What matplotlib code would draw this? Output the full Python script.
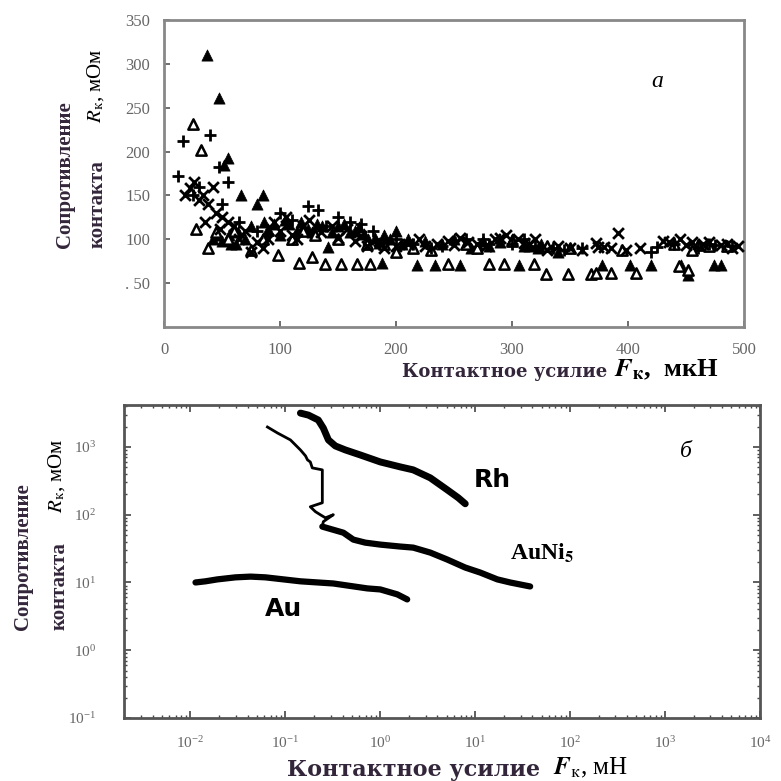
import matplotlib
matplotlib.use("Agg")
import matplotlib.pyplot as plt
from matplotlib.ticker import FixedLocator, LogLocator, NullFormatter

plt.rcParams["font.family"] = ["Liberation Serif", "DejaVu Serif"]
plt.rcParams["mathtext.fontset"] = "stix"

# ---- panel a: scatter, R (mOhm) vs F (uN) ----
tri_f_x = [37, 47, 55, 52, 66, 85, 45, 58, 70, 86, 95, 104, 115, 124, 141, 150, 160, 168, 176,
           188, 195, 205, 218, 234, 255, 265, 280, 306, 310, 322, 340, 378, 402, 420, 446, 452,
           474, 480, 62, 80, 110, 132, 185,
           42, 50, 56, 64, 75, 90, 100, 108, 118, 128, 136, 145, 155, 165, 172, 182, 190, 200,
           210, 225, 240, 250, 275, 290, 300, 315, 325]
tri_f_y = [310, 261, 193, 185, 150, 150, 105, 95, 100, 120, 118, 122, 110, 112, 91, 115, 108, 114,
           100, 73, 100, 95, 71, 71, 71, 90, 92, 71, 92, 90, 85, 71, 71, 71, 71, 59,
           71, 71, 95, 140, 100, 118, 96,
           100, 98, 105, 108, 115, 112, 105, 118, 120, 108, 115, 108, 118, 110, 106, 102, 105, 110,
           100, 98, 95, 100, 98, 97, 100, 92, 95]
tri_o_x = [25, 32, 38, 28, 60, 75, 98, 116, 128, 139, 153, 166, 178, 245, 280, 293, 319, 329, 348,
           368, 372, 385, 407, 444, 452, 110, 130, 200, 230, 260, 300, 350, 440, 460,
           45, 55, 85, 120, 150, 175, 190, 215, 270, 330, 395, 455, 470, 485]
tri_o_y = [232, 202, 90, 112, 110, 88, 82, 73, 80, 72, 72, 72, 72, 72, 72, 72, 72, 60, 60,
           60, 62, 62, 62, 70, 65, 100, 105, 85, 88, 95, 98, 90, 95, 93,
           108, 100, 100, 110, 100, 95, 95, 90, 90, 92, 88, 88, 92, 92]
plus_x = [12, 16, 40, 47, 55, 30, 65, 80, 90, 100, 124, 133, 140, 160, 180, 200, 215, 240, 260,
          280, 300, 320, 345, 360, 420, 425, 440, 470, 490,
          25, 50, 110, 150, 170, 190, 230, 275, 310, 335, 460, 475]
plus_y = [172, 212, 219, 182, 165, 160, 120, 110, 105, 130, 138, 133, 115, 120, 110, 100, 95, 92,
          100, 95, 95, 92, 88, 90, 86, 91, 95, 95, 92,
          150, 140, 122, 125, 118, 100, 90, 100, 100, 90, 90, 94]
cross_x = [18, 22, 26, 30, 34, 38, 42, 45, 50, 55, 60, 70, 75, 85, 90, 100, 110, 120, 135, 150,
           165, 175, 190, 210, 225, 245, 255, 270, 285, 295, 305, 315, 330, 350, 372, 374, 379,
           391, 398, 430, 445, 455, 465, 480, 495,
           35, 48, 65, 80, 95, 105, 115, 125, 145, 158, 170, 185, 200, 220, 235, 250, 262, 278,
           290, 310, 320, 340, 360, 385, 410, 435, 450, 470, 485, 490]
cross_y = [150, 158, 165, 145, 150, 140, 160, 130, 125, 120, 115, 110, 85, 90, 100, 110, 105, 115,
           108, 102, 98, 92, 90, 95, 92, 98, 102, 95, 100, 105, 100, 95, 88, 90, 96, 91, 91,
           107, 88, 98, 100, 97, 95, 93, 92,
           120, 112, 100, 97, 120, 125, 100, 122, 115, 112, 104, 98, 92, 100, 95, 93, 97, 92,
           102, 96, 100, 92, 88, 90, 90, 97, 94, 97, 95, 90]
a_yticks = [50, 100, 150, 200, 250, 300, 350]
a_ylabels = [". 50", "100", "150", "200", "250", "300", "350"]
a_xticks = [0, 100, 200, 300, 400, 500]

# ---- panel b: log-log curves, R (mOhm) vs F (mN) ----
rh_f = [0.144, 0.175, 0.222, 0.251, 0.284, 0.336, 0.428, 0.615, 1.0, 1.62, 2.22, 3.36, 5.07, 6.62, 7.85]
rh_r = [3160, 2950, 2500, 1900, 1270, 1035, 904, 762, 601, 508, 459, 350, 233, 178, 145]
auni_thin_f = [0.0647, 0.0824, 0.113, 0.144, 0.163, 0.171, 0.183, 0.192, 0.245, 0.245, 0.183,
               0.207, 0.233, 0.264, 0.320, 0.251, 0.245]
auni_thin_r = [1970, 1610, 1270, 904, 738, 644, 601, 491, 459, 150, 131, 111, 100, 90, 100, 79, 67]
auni_f = [0.245, 0.408, 0.520, 0.695, 1.0, 1.62, 2.22, 3.36, 5.07, 7.85, 11.3, 17.1, 23.3, 37.9]
auni_r = [66.7, 54.3, 42.9, 38.7, 36.2, 33.9, 32.7, 27.6, 21.8, 16.6, 14.0, 11.1, 10.0, 8.73]
au_f = [0.0113, 0.0144, 0.0192, 0.0298, 0.0429, 0.0617, 0.144, 0.320, 0.730, 1.0, 1.51, 1.92]
au_r = [10.0, 10.4, 11.1, 11.9, 12.2, 11.9, 10.4, 9.66, 8.17, 7.89, 6.67, 5.62]

label_col = "#33263a"
tick_col = "#666666"

fig = plt.figure(figsize=(7.81, 7.81), dpi=100)

# ==== panel a ====
ax1 = fig.add_axes([0.21, 0.5813, 0.7426, 0.393])
ax1.scatter(tri_f_x, tri_f_y, marker="^", s=65, c="black", linewidths=0.5, zorder=3)
ax1.scatter(tri_o_x, tri_o_y, marker="^", s=55, facecolors="white", edgecolors="black",
            linewidths=1.8, zorder=3)
ax1.scatter(plus_x, plus_y, marker="+", s=75, c="black", linewidths=2, zorder=3)
ax1.scatter(cross_x, cross_y, marker="x", s=60, c="black", linewidths=2, zorder=3)
ax1.set_xlim(0, 500)
ax1.set_ylim(0, 350)
ax1.set_yticks(a_yticks)
ax1.set_yticklabels(a_ylabels)
ax1.set_xticks(a_xticks)
ax1.tick_params(axis="both", direction="in", length=4, width=1.2, color="#555555",
                labelcolor=tick_col, labelsize=12)
ax1.tick_params(axis="y", pad=10)
ax1.tick_params(axis="x", pad=11)
for sp in ax1.spines.values():
    sp.set_color("#888888")
    sp.set_linewidth(2)
ax1.text(0.85, 0.80, "a", transform=ax1.transAxes, fontsize=17, style="italic",
         ha="center", va="center")

# y label of panel a (two columns)
fig.text(65 / 781, 1 - 248 / 781, "Сопротивление", rotation=90, ha="center", va="bottom",
         fontsize=15, fontweight="bold", color=label_col)
fig.text(98 / 781, 1 - 248 / 781, "контакта", rotation=90, ha="center", va="bottom",
         fontsize=15, fontweight="bold", color=label_col)
fig.text(96 / 781, 1 - 123 / 781, "$R_{\\mathrm{к}}$, мОм", rotation=90, ha="center", va="bottom",
         fontsize=15, color="black")

# x label of panel a
fig.text(607 / 781, 1 - 372 / 781, "Контактное усилие", ha="right", va="center",
         fontsize=13, fontweight="bold", color=label_col, family="DejaVu Serif")
fig.text(614 / 781, 1 - 370 / 781, "$\\boldsymbol{F}_{\\mathbf{к}}$,  мкН", ha="left", va="center",
         fontsize=19, fontweight="bold", color="black")

# ==== panel b ====
ax2 = fig.add_axes([0.1588, 0.0807, 0.8143, 0.4008])
ax2.set_xscale("log")
ax2.set_yscale("log")
ax2.plot(rh_f, rh_r, color="black", lw=5, solid_capstyle="round", solid_joinstyle="round")
ax2.plot(auni_thin_f, auni_thin_r, color="black", lw=2, solid_joinstyle="round")
ax2.plot(auni_f, auni_r, color="black", lw=4.5, solid_capstyle="round", solid_joinstyle="round")
ax2.plot(au_f, au_r, color="black", lw=4.5, solid_capstyle="round", solid_joinstyle="round")
ax2.set_xlim(10 ** -2.7, 1e4)
ax2.set_ylim(0.1, 10 ** 3.62)
ax2.xaxis.set_major_locator(FixedLocator([1e-2, 1e-1, 1e0, 1e1, 1e2, 1e3, 1e4]))
ax2.yaxis.set_major_locator(FixedLocator([1e-1, 1e0, 1e1, 1e2, 1e3]))
ax2.xaxis.set_minor_locator(LogLocator(base=10, subs=range(2, 10), numticks=20))
ax2.yaxis.set_minor_locator(LogLocator(base=10, subs=range(2, 10), numticks=20))
ax2.xaxis.set_minor_formatter(NullFormatter())
ax2.yaxis.set_minor_formatter(NullFormatter())
ax2.tick_params(which="both", direction="in", top=True, right=True, color="#444444",
                labelcolor=tick_col, labelsize=11)
ax2.tick_params(which="major", length=5, width=1.2)
ax2.tick_params(which="minor", length=2.5, width=1)
ax2.tick_params(axis="x", pad=12)
ax2.tick_params(axis="y", pad=20)
for sp in ax2.spines.values():
    sp.set_color("#555555")
    sp.set_linewidth(2)

ax2.text(15, 330, "Rh", fontsize=18, fontweight="bold", family="DejaVu Sans",
         ha="center", va="center")
ax2.text(50, 27, "AuNi$_\\mathbf{5}$", fontsize=17, fontweight="bold", ha="center", va="center")
ax2.text(0.095, 4.0, "Au", fontsize=18, fontweight="bold", family="DejaVu Sans",
         ha="center", va="center")
ax2.text(0.883, 0.85, "б", transform=ax2.transAxes, fontsize=17, style="italic",
         ha="center", va="center")

# y label of panel b
fig.text(23 / 781, 1 - 630 / 781, "Сопротивление", rotation=90, ha="center", va="bottom",
         fontsize=15, fontweight="bold", color=label_col)
fig.text(60 / 781, 1 - 630 / 781, "контакта", rotation=90, ha="center", va="bottom",
         fontsize=15, fontweight="bold", color=label_col)
fig.text(57 / 781, 1 - 513 / 781, "$R_{\\mathrm{к}}$, мОм", rotation=90, ha="center", va="bottom",
         fontsize=15, color="black")

# x label of panel b
fig.text(540 / 781, 1 - 770 / 781, "Контактное усилие", ha="right", va="center",
         fontsize=16, fontweight="bold", color=label_col, family="DejaVu Serif")
fig.text(553 / 781, 1 - 768 / 781, "$\\boldsymbol{F}_{\\mathrm{к}}$, мН", ha="left", va="center",
         fontsize=18, color="black")

fig.savefig("out.png", dpi=100)
